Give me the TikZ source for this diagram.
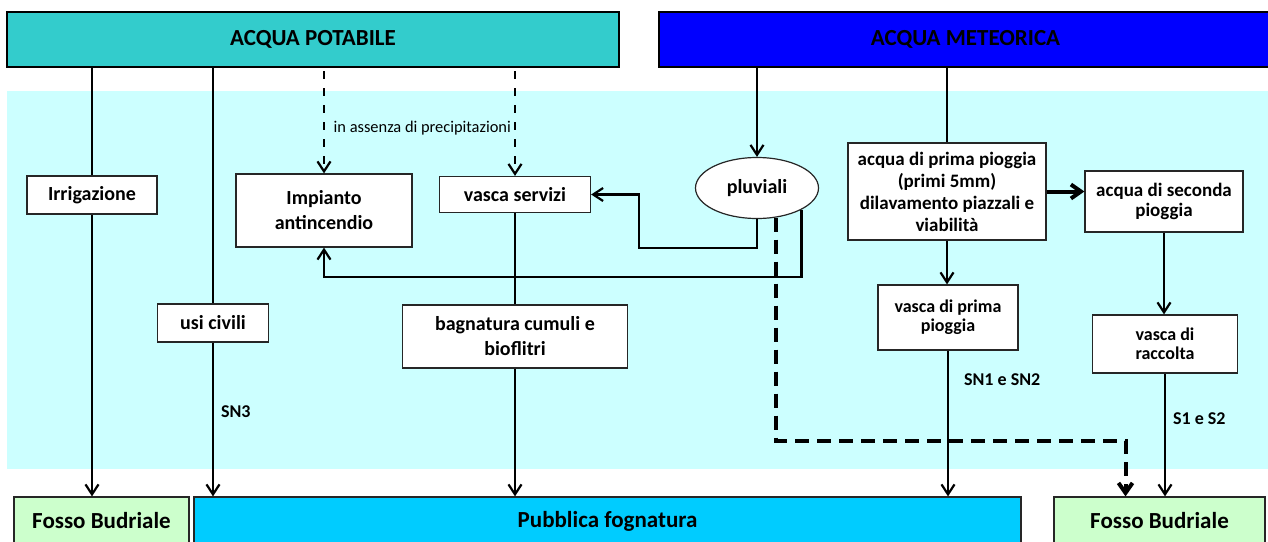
\documentclass[tikz,border=0pt]{standalone}
\usepackage{fontspec}
\setmainfont{Carlito}
\usepackage{tikz}
\usetikzlibrary{arrows.meta}
\usetikzlibrary{shapes.geometric}
\definecolor{potabile}{HTML}{33CCCC}
\definecolor{meteorica}{HTML}{0000FF}
\definecolor{zona}{HTML}{CCFFFF}
\definecolor{fosso}{HTML}{CCFFCC}
\definecolor{fogna}{HTML}{00CCFF}
\tikzset{banner/.style={draw=black,line width=1pt,inner sep=0pt,font=\bfseries\fontsize{11.5}{13}\selectfont}}
\tikzset{uso/.style={draw=black!85,fill=white,line width=0.6pt,inner sep=0pt,align=center,font=\bfseries\fontsize{10}{12.5}\selectfont}}
\tikzset{piccolo/.style={font=\bfseries\fontsize{9}{9.5}\selectfont}}
\tikzset{pipe/.style={line width=1.1pt}}
\tikzset{flow/.style={line width=1.1pt,-{Straight Barb[length=5pt,width=6.5pt]}}}
\tikzset{dpipe/.style={flow,dash pattern=on 4pt off 4.5pt}}
\tikzset{dthick/.style={line width=2pt,dash pattern=on 7pt off 4pt,-{Straight Barb[length=5pt,width=7pt]}}}
\tikzset{sigla/.style={font=\bfseries\fontsize{9}{10}\selectfont,anchor=west,inner sep=0pt}}

\begin{document}
\begin{tikzpicture}[x=0.5pt, y=-0.5pt]

\useasboundingbox (0,0) rectangle (1268,541);
\fill [zona] (7,91) rectangle (1275,469);

% sorgenti
\node [banner, fill=potabile, minimum width=306pt, minimum height=27.5pt] (potabile) at (313,39.5) {ACQUA POTABILE};
\node [banner, fill=meteorica, minimum width=306.5pt, minimum height=27.5pt] (meteorica) at (965.5,39.5) {ACQUA METEORICA};

% recapiti
\node [banner, line width=0.6pt, draw=black!85, fill=fosso, minimum width=87.5pt, minimum height=24pt] (fosso1) at (101.5,521) {Fosso Budriale};
\node [banner, line width=0.6pt, draw=black!85, fill=fogna, minimum width=413.5pt, minimum height=24pt] (fogna) at (607.5,521) {Pubblica fognatura};
\node [banner, line width=0.6pt, draw=black!85, fill=fosso, minimum width=105.5pt, minimum height=24pt] (fosso2) at (1159.5,521) {Fosso Budriale};

% usi
\node [uso, minimum width=65pt, minimum height=19pt] (irrig) at (92,195) {Irrigazione};
\node [uso, minimum width=88pt, minimum height=36.5pt] (impianto) at (324,210.5) {Impianto\\antincendio};
\node [uso, minimum width=75.5pt, minimum height=18pt] (servizi) at (515,194.5) {vasca servizi};
\node [uso, ellipse, minimum width=61.5pt, minimum height=30.5pt] (pluviali) at (757,188) {pluviali};
\node [uso, font=\bfseries\fontsize{9.5}{11}\selectfont, minimum width=99pt, minimum height=48.5pt] (prima) at (947,191.5) {acqua di prima pioggia\\(primi 5mm)\\dilavamento piazzali e\\viabilità};
\node [uso, font=\bfseries\fontsize{9.5}{10}\selectfont, minimum width=79pt, minimum height=30.5pt] (seconda) at (1164,201.5) {acqua di seconda\\pioggia};
\node [uso, minimum width=55.5pt, minimum height=19pt] (usi) at (213,323) {usi civili};
\node [uso, minimum width=112.5pt, minimum height=31.5pt] (bagnatura) at (515,336.5) {bagnatura cumuli e\\bioflitri};
\node [uso, piccolo, minimum width=70pt, minimum height=32.5pt] (vprima) at (948,317.5) {vasca di prima\\pioggia};
\node [uso, piccolo, minimum width=72.5pt, minimum height=29pt] (raccolta) at (1165,344) {vasca di\\raccolta};

% acqua potabile
\coordinate (c1) at (92,0);
\coordinate (c2) at (213,0);
\draw [pipe] (potabile.south -| c1) -- (irrig.north);
\draw [flow] (irrig.south) -- (fosso1.north -| c1);
\draw [pipe] (potabile.south -| c2) -- (usi.north);
\draw [flow] (usi.south) -- (fogna.north -| c2) node [sigla, pos=0.45, xshift=3.5pt] {SN3};
\draw [dpipe] ([yshift=-1.5pt]potabile.south -| impianto) -- (impianto.north);
\draw [dpipe] ([yshift=-1.5pt]potabile.south -| servizi) -- (servizi.north)
  node [pos=0.54, anchor=east, inner sep=1.5pt, font=\fontsize{8.2}{9}\selectfont] {in assenza di precipitazioni};
\draw [pipe] (servizi.south) -- (bagnatura.north);
\draw [flow] (bagnatura.south) -- (fogna.north -| bagnatura);

% acqua meteorica
\coordinate (ritorno) at (639,248);
\draw [flow] (meteorica.south -| pluviali) -- (pluviali.north);
\draw [flow] (pluviali.south) |- (ritorno) |- (servizi.east);
\draw [flow] (pluviali.-26) -- ++(0,67) -| (impianto.south);
\draw [dthick] (pluviali.-57) -- ++(0,223) -| ([xshift=-17pt]fosso2.north);
\draw [pipe] (meteorica.south -| prima) -- (prima.north);
\draw [line width=2pt, -{Straight Barb[length=5pt,width=7pt]}] (prima.east) -- (seconda.west |- prima.east);
\draw [flow] (prima.south) -- (vprima.north -| prima);
\draw [flow] (vprima.south) -- (fogna.north -| vprima) node [sigla, pos=0.2, xshift=7.5pt] {SN1 e SN2};
\draw [flow] (seconda.south) -- (raccolta.north -| seconda);
\draw [flow] (raccolta.south) -- (fosso2.north -| raccolta) node [sigla, pos=0.37, xshift=3.5pt] {S1 e S2};

\end{tikzpicture}
\end{document}
